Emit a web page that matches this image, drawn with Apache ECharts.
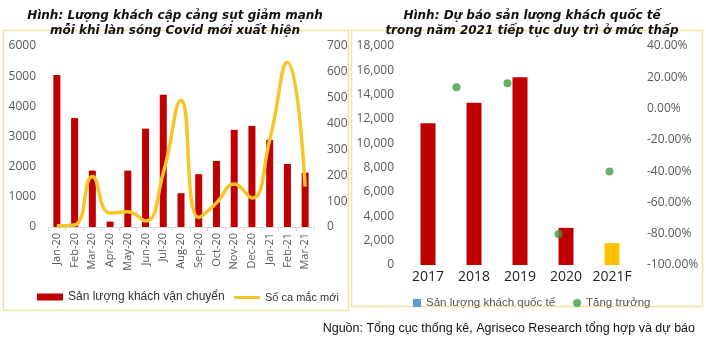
<!DOCTYPE html>
<html>
<head>
<meta charset="utf-8">
<script src="https://cdn.jsdelivr.net/npm/echarts@6/dist/echarts.min.js"></script>
<style>
  html, body { margin: 0; padding: 0; background: #fff; }
  #chart { width: 706px; height: 340px; }
</style>
</head>
<body>
<div id="chart"></div>
<script>
// bieu do trai: luong khach cap cang theo thang
var months = ['Jan-20','Feb-20','Mar-20','Apr-20','May-20','Jun-20','Jul-20','Aug-20',
              'Sep-20','Oct-20','Nov-20','Dec-20','Jan-21','Feb-21','Mar-21'];
var passengers = [5040, 3610, 1870, 180, 1870, 3260, 4380, 1120, 1750, 2190, 3220, 3350, 2890, 2090, 1800];
var newCases = [5, 8, 195, 54, 59, 23, 209, 489, 37, 93, 166, 112, 336, 637, 156];

// bieu do phai: khach quoc te theo nam
var years = ['2017', '2018', '2019', '2020', '2021F'];
var intlVisitors = [11650, 13340, 15430, 3050, 1800];
var growth = [null, 0.136, 0.162, -0.802, -0.403];

var red = '#C00000';
var gold = '#F5C52A';
var boxColor = '#F1E3A3';
var axisText = '#595959';

var chart = echarts.init(document.getElementById('chart'));

var option = {
    backgroundColor: '#fff',
    animation: false,
    title: [
        {
            text: 'Hình: Lượng khách cập cảng sụt giảm mạnh\nmỗi khi làn sóng Covid mới xuất hiện',
            left: 170, top: 3, textAlign: 'center',
            textStyle: { fontFamily: 'DejaVu Sans', fontStyle: 'italic', fontWeight: 'bold',
                         fontSize: 12, color: '#111', lineHeight: 15 }
        },
        {
            text: 'Hình: Dự báo sản lượng khách quốc tế\ntrong năm 2021 tiếp tục duy trì ở mức thấp',
            left: 527, top: 3, textAlign: 'center',
            textStyle: { fontFamily: 'DejaVu Sans', fontStyle: 'italic', fontWeight: 'bold',
                         fontSize: 12, color: '#111', lineHeight: 15 }
        },
        {
            text: 'Nguồn: Tổng cục thống kê, Agriseco Research tổng hợp và dự báo',
            right: 6, top: 317,
            textStyle: { fontFamily: 'Liberation Sans', fontWeight: 'normal', fontSize: 12.5, color: '#111' }
        }
    ],
    graphic: [
        { type: 'rect', shape: { x: 3.5, y: 30.5, width: 345, height: 280 },
          style: { fill: 'none', stroke: boxColor, lineWidth: 1.5 } },
        { type: 'rect', shape: { x: 351.5, y: 30.5, width: 351, height: 276 },
          style: { fill: 'none', stroke: boxColor, lineWidth: 1.5 } }
    ],
    legend: [
        {
            left: 32, top: 286, itemWidth: 26, itemHeight: 7,
            textStyle: { fontFamily: 'Liberation Sans', color: '#333', fontSize: 12 },
            data: [{ name: 'Sản lượng khách vận chuyển', icon: 'rect' }]
        },
        {
            left: 229, top: 287, itemWidth: 26, itemHeight: 3,
            textStyle: { fontFamily: 'Liberation Sans', color: '#333', fontSize: 11 },
            data: [{ name: 'Số ca mắc mới', icon: 'rect' }]
        },
        {
            left: 408, top: 292, itemWidth: 8, itemHeight: 8, itemGap: 18,
            textStyle: { fontFamily: 'Liberation Sans', color: '#555', fontSize: 11.5 },
            data: [
                { name: 'Sản lượng khách quốc tế', icon: 'rect', itemStyle: { color: '#5B9BD5' } },
                { name: 'Tăng trưởng', icon: 'circle' }
            ]
        }
    ],
    grid: [
        { left: 48, right: 392, top: 46, bottom: 113 },
        { left: 405, right: 71, top: 46, bottom: 75 },
        { left: 380, right: 71, top: 46, bottom: 75 }
    ],
    xAxis: [
        {
            type: 'category', gridIndex: 0, data: months,
            axisLine: { lineStyle: { color: '#D9D9D9' } },
            axisTick: { show: true, length: 4, lineStyle: { color: '#D9D9D9' } },
            axisLabel: { rotate: 90, interval: 0, fontSize: 11, color: axisText, fontFamily: 'Open Sans', margin: 6 }
        },
        {
            type: 'category', gridIndex: 1, data: years,
            axisLine: { show: false }, axisTick: { show: false },
            axisLabel: { interval: 0, fontSize: 14, color: '#222', fontFamily: 'Open Sans', margin: 5 }
        },
        {
            type: 'category', gridIndex: 2, data: years, show: false
        }
    ],
    yAxis: [
        {
            type: 'value', gridIndex: 0, min: 0, max: 6000, interval: 1000,
            splitLine: { show: false },
            axisLabel: {
                fontSize: 12, color: axisText, fontFamily: 'Open Sans', margin: 12,
                formatter: function (v) { return String(v); }
            }
        },
        {
            type: 'value', gridIndex: 0, min: 0, max: 700, interval: 100, position: 'right',
            splitLine: { show: false },
            axisLabel: { fontSize: 12, color: axisText, fontFamily: 'Open Sans', margin: 13 }
        },
        {
            type: 'value', gridIndex: 1, min: 0, max: 18000, interval: 2000,
            splitLine: { show: false },
            axisLabel: {
                fontSize: 12, color: axisText, fontFamily: 'Open Sans', margin: 11,
                formatter: function (v) { return v.toLocaleString('en-US'); }
            }
        },
        {
            type: 'value', gridIndex: 1, min: -1, max: 0.4, interval: 0.2, position: 'right',
            splitLine: { show: false },
            axisLabel: {
                fontSize: 12, color: axisText, fontFamily: 'Open Sans', margin: 12,
                formatter: function (v) { return (v * 100).toFixed(2) + '%'; }
            }
        },
        {
            type: 'value', gridIndex: 2, min: -1, max: 0.4, show: false
        }
    ],
    series: [
        {
            name: 'Sản lượng khách vận chuyển', type: 'bar',
            xAxisIndex: 0, yAxisIndex: 0, data: passengers,
            barWidth: 7, itemStyle: { color: red }
        },
        {
            name: 'Số ca mắc mới', type: 'line',
            xAxisIndex: 0, yAxisIndex: 1, data: newCases,
            smooth: 0.5, showSymbol: false, symbol: 'none',
            lineStyle: { color: gold, width: 3.5 }, itemStyle: { color: gold }
        },
        {
            name: 'Sản lượng khách quốc tế', type: 'bar',
            xAxisIndex: 1, yAxisIndex: 2, barWidth: 15,
            data: intlVisitors.map(function (v, i) {
                return { value: v, itemStyle: { color: i === 4 ? '#FFC000' : red } };
            })
        },
        {
            name: 'Tăng trưởng', type: 'scatter',
            xAxisIndex: 2, yAxisIndex: 4, data: growth,
            symbolSize: 8, itemStyle: { color: '#3E9B45' }
        }
    ]
};

chart.setOption(option);
</script>
</body>
</html>
